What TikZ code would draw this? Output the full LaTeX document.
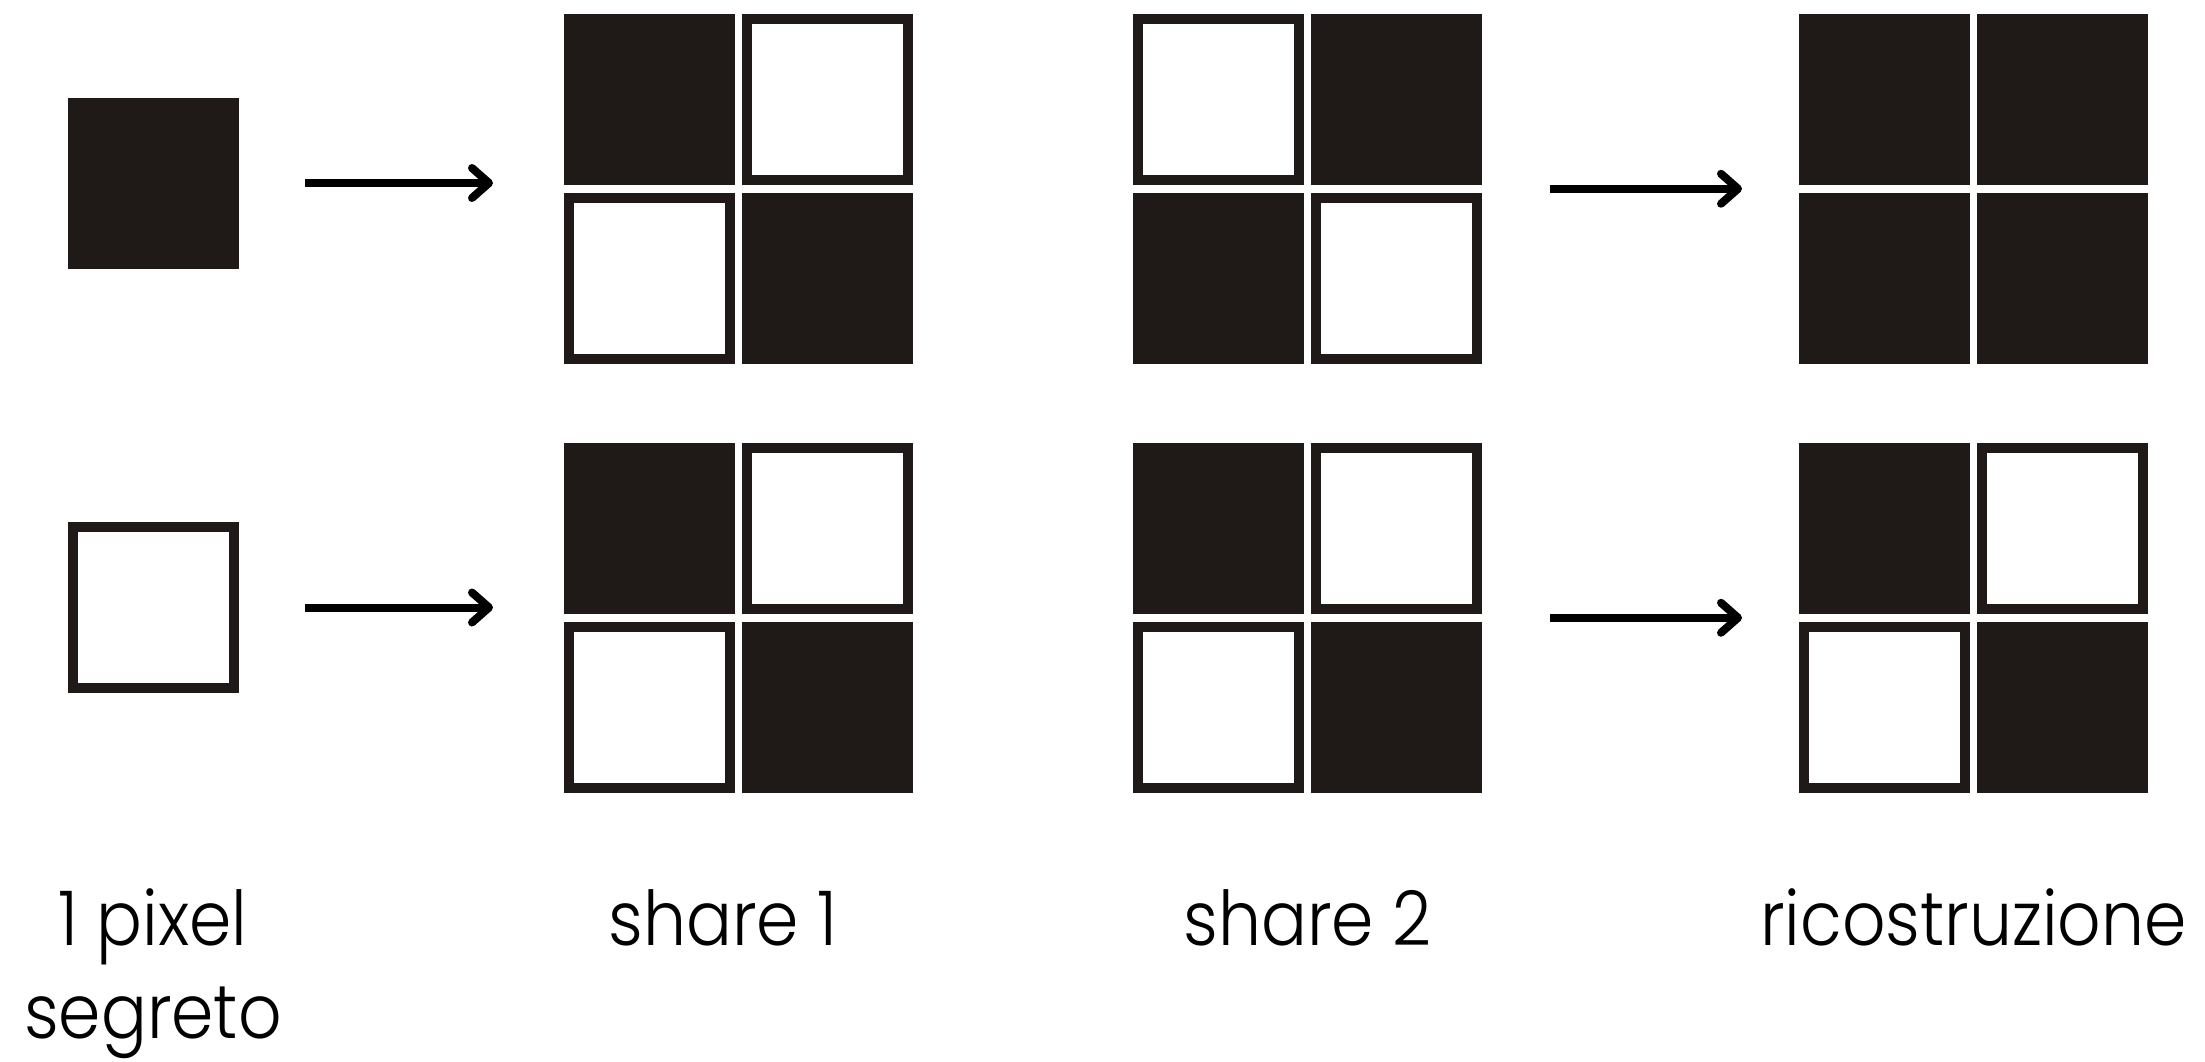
\documentclass[tikz,border=0pt]{standalone}
\usepackage{fontspec}
\setmainfont{Poppins}[UprightFont=* Light,FakeStretch=0.9]
\usepackage{tikz}
\usetikzlibrary{arrows.meta}
\definecolor{ink}{HTML}{1F1A17}

\begin{document}
\begin{tikzpicture}
                \useasboundingbox (0,0) rectangle (22.05,10.61);
                \tikzstyle{blk}=[rectangle,fill=ink,inner sep=0pt,minimum size=1.71cm]
                \tikzstyle{wht}=[rectangle,draw=ink,fill=white,line width=0.1cm,inner sep=0pt,minimum size=1.61cm]
                \tikzstyle{arr}=[line width=0.08cm,-{Straight Barb[round,length=0.17cm,width=0.3cm]}]
                \tikzstyle{lbl}=[anchor=base,align=center,inner sep=0pt,font=\fontsize{21.5}{26.5}\selectfont]
                \newcommand\grid[7]{\node[#4] at (#1,#2) (#3-tl) {};%
                \node[#5] at (#1+1.78,#2) (#3-tr) {};%
                \node[#6] at (#1,#2-1.785) (#3-bl) {};%
                \node[#7] at (#1+1.78,#2-1.785) (#3-br) {};%
                \coordinate (#3-w) at (#1-0.855,#2-0.8925);%
                \coordinate (#3-e) at (#1+2.635,#2-0.8925);}
                \node[blk] at (1.53,8.78) (px1) {};
                \node[wht] at (1.53,4.535) (px2) {};
                \grid{6.495}{9.615}{sh1a}{blk}{wht}{wht}{blk};
                \grid{12.185}{9.615}{sh2a}{wht}{blk}{blk}{wht};
                \grid{18.845}{9.615}{reca}{blk}{blk}{blk}{blk};
                \grid{6.495}{5.325}{sh1b}{blk}{wht}{wht}{blk};
                \grid{12.185}{5.325}{sh2b}{blk}{wht}{wht}{blk};
                \grid{18.845}{5.325}{recb}{blk}{wht}{wht}{blk};
                \draw[arr,shorten <=0.66cm,shorten >=0.71cm] (px1.east) -- (px1.east -| sh1a-w);
                \draw[arr,shorten <=0.66cm,shorten >=0.71cm] (px2.east) -- (px2.east -| sh1b-w);
                \draw[arr,shorten <=0.68cm,shorten >=0.57cm] (sh2a-e) -- (reca-w);
                \draw[arr,shorten <=0.68cm,shorten >=0.57cm] (sh2b-e) -- (recb-w);
                \node[lbl] at (1.53,0.225) (lpx) {1 pixel\\segreto};
                \node[lbl] at (7.23,1.16) (lsh1) {share 1};
                \node[lbl] at (13.075,1.16) (lsh2) {share 2};
                \node[lbl] at (19.735,1.16) (lrec) {ricostruzione};
            \end{tikzpicture}
\end{document}
